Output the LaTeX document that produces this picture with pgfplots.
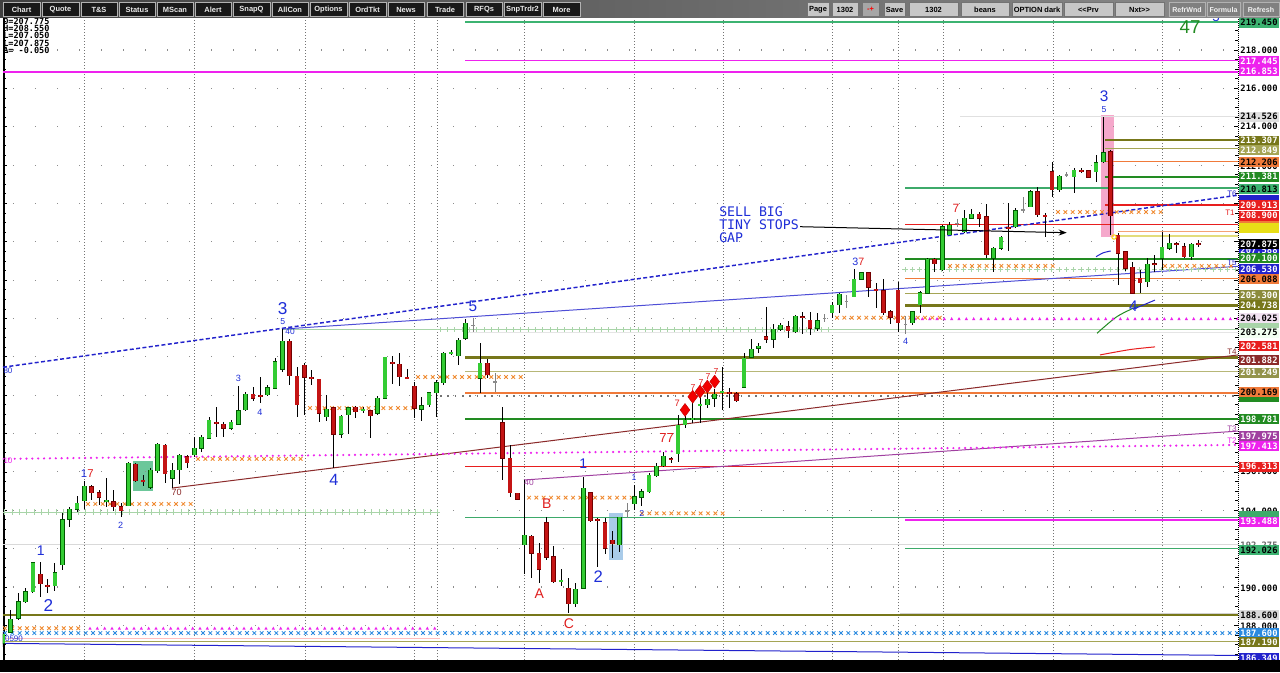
\documentclass[border=0pt]{standalone}
\usepackage{pgfplots}
\pgfplotsset{compat=1.18}
\usepackage{pgfplotstable}
\usetikzlibrary{decorations.markings,arrows.meta}
\usepackage{fontspec}
\setmainfont{Liberation Sans}
\newfontfamily\mono{DejaVu Sans Mono}
\newcommand{\fs}[1]{\fontsize{#1}{#1}\selectfont}

\definecolor{cgreen}{HTML}{33CC33}
\definecolor{cred}{HTML}{C41414}
\definecolor{lgreen}{HTML}{3CB371}
\definecolor{mag}{HTML}{EE22EE}
\definecolor{olive}{HTML}{77771A}
\definecolor{oliveL}{HTML}{A5A555}
\definecolor{orng}{HTML}{F07A3A}
\definecolor{dgreen}{HTML}{228B22}
\definecolor{tgreen}{HTML}{3DAA6A}
\definecolor{rline}{HTML}{E81E1E}
\definecolor{tblue}{HTML}{2222CC}
\definecolor{maroon}{HTML}{8B2A2A}
\definecolor{purp}{HTML}{A040A0}
\definecolor{xorange}{HTML}{F08A30}
\definecolor{pgreen}{HTML}{A8D4A8}
\definecolor{xblue}{HTML}{2A8AE0}
\definecolor{annblue}{HTML}{1E2ED8}
\definecolor{annred}{HTML}{E01E1E}
\definecolor{shadeG}{HTML}{6CC79A}
\definecolor{shadeB}{HTML}{A9CBE9}
\definecolor{shadeP}{HTML}{F5A8CB}

\pgfplotstableread{
x o h l c
3 187.07 187.67 186.89 187.55
10.7 187.64 188.80 187.59 188.33
18.3 188.37 189.67 188.28 189.24
25.7 189.24 189.93 189.15 189.76
33 189.76 191.27 189.67 191.27
55 190.05 191.24 189.81 190.75
62.3 191.15 193.84 190.89 193.50
69.7 193.53 194.19 193.15 194.05
77 194.05 194.75 193.93 194.37
84.3 194.50 195.53 194.05 195.27
106.3 194.48 195.67 194.19 194.52
128.3 194.24 196.50 194.20 196.45
150.3 195.20 196.19 195.10 196.10
157.7 196.07 197.49 195.93 197.46
172.3 195.67 196.48 195.15 196.10
179.7 196.10 196.94 195.37 196.88
194.3 196.88 197.84 196.80 197.23
201.7 197.23 197.93 197.06 197.81
209 197.75 198.88 197.70 198.71
231 198.28 198.71 198.19 198.60
238.3 198.49 200.48 198.45 199.19
245.7 199.23 200.19 199.19 200.05
267.7 200.01 200.53 199.96 200.39
275 200.36 201.93 200.31 201.75
282.3 201.35 203.44 201.23 202.83
326.3 198.88 200.01 198.67 199.27
341 197.96 198.97 197.79 198.92
348.3 198.97 199.40 197.96 199.35
363 199.21 199.37 199.06 199.25
377.7 199.06 199.96 198.97 199.84
385 199.84 202.01 199.84 201.98
421.7 199.27 199.89 198.66 199.46
429 199.49 200.19 199.40 200.13
436.3 200.13 200.79 198.88 200.65
443.7 200.65 202.27 200.53 202.19
451 202.18 202.36 202.10 202.22
458.3 202.05 202.97 201.58 202.88
465.7 202.97 203.96 202.88 203.75
480 200.88 202.71 200.13 201.66
524.3 192.19 195.58 190.68 192.71
561 190.30 190.92 190.05 190.34
575.7 189.12 190.19 188.97 189.88
583.3 189.93 195.75 189.88 195.15
619.7 192.19 193.67 191.84 193.64
634.3 194.33 195.32 194.02 194.71
641.7 194.68 195.10 194.23 194.97
649 194.97 195.93 194.89 195.84
656.3 195.79 196.45 195.75 196.31
663.7 196.31 197.06 196.24 196.83
678 196.94 198.97 196.53 198.45
685 198.45 198.92 198.28 198.71
692.7 198.74 199.84 198.57 198.78
700 199.47 200.19 198.57 199.51
707.3 199.49 200.19 199.32 199.79
714.7 199.84 200.31 199.40 200.07
722 200.17 201.46 199.23 200.21
744 200.41 202.19 200.36 201.93
751.3 201.98 202.92 201.93 202.40
758.7 202.45 202.74 202.19 202.57
773.3 202.92 203.71 202.45 203.44
780.7 203.44 203.75 203.37 203.66
795.3 203.31 204.18 203.23 204.13
817.3 203.49 204.27 203.37 203.89
832 204.30 204.88 204.01 204.70
839.3 204.70 205.31 204.30 205.26
854 205.14 206.57 205.11 206.04
861.3 206.04 206.44 206.01 206.39
912.7 203.78 204.41 203.66 204.36
920 204.70 205.45 204.27 205.35
927.3 205.31 207.14 205.28 207.09
942.3 206.53 208.88 206.49 208.79
949.7 208.35 209.05 208.35 208.88
964.3 208.53 209.66 208.44 209.22
971.7 209.22 209.69 209.17 209.45
993.7 207.14 207.74 206.44 207.66
1001 207.66 208.30 207.57 208.23
1015.7 208.79 209.75 208.70 209.62
1030.3 209.83 210.70 209.80 210.61
1059.3 210.70 211.48 210.61 211.43
1074 211.39 211.83 210.53 211.74
1096 211.65 212.53 211.13 212.12
1103.3 212.18 214.50 212.09 212.65
1147.3 205.92 207.14 205.66 206.84
1162 207.14 208.53 206.53 207.71
1169.3 207.66 208.40 207.57 207.92
1191.3 207.22 207.92 207.05 207.88
}\tabG

\pgfplotstableread{
x o h l c
40.3 190.66 191.32 189.50 190.16
47.7 190.08 190.42 189.67 190.06
91.7 195.23 195.32 194.54 194.92
99 194.92 195.06 194.28 194.68
113.7 194.45 195.06 193.96 194.19
121 194.19 194.37 193.64 193.96
135.7 196.41 196.47 195.48 195.54
143 195.55 195.84 195.27 195.51
165 197.41 197.44 195.41 195.89
187 196.80 196.88 196.19 196.48
216.3 198.59 199.37 197.84 198.55
223.7 198.49 198.62 197.81 198.28
253 200.05 200.44 199.70 199.84
260.3 199.98 200.93 199.58 199.94
289.7 202.83 202.92 200.53 201.02
297 201.00 201.46 198.85 199.49
304.3 201.58 201.67 198.97 200.94
311.7 200.94 201.32 200.53 200.90
319 200.83 200.83 198.62 199.06
333.7 199.35 199.40 196.19 197.96
355.7 199.37 199.44 198.80 199.14
370.3 199.19 199.23 197.79 198.93
392.3 201.72 202.05 200.59 201.68
399.7 201.63 202.22 200.48 200.97
407 200.94 201.37 200.83 200.90
414.3 200.48 200.71 198.80 199.32
487.7 201.66 201.87 200.88 201.06
502.3 198.57 199.37 195.58 196.71
510 196.71 197.41 194.68 194.92
517.3 194.89 194.92 194.54 194.57
531.7 192.66 192.71 190.46 191.76
539 191.76 192.31 190.23 190.92
546.3 193.35 193.67 191.41 191.55
553.7 191.58 192.14 190.23 190.28
568.3 189.93 190.46 188.63 189.12
590.3 194.92 194.97 193.41 193.46
597.7 193.52 193.58 191.06 193.48
605 193.35 193.58 191.72 192.02
612.3 192.45 192.94 191.50 192.24
671 196.68 196.76 196.48 196.64
729.3 200.15 200.36 199.32 200.11
736.7 200.07 200.19 199.66 199.72
766 203.05 204.58 202.71 202.92
788 203.57 203.89 202.97 203.37
802.7 204.08 204.36 203.19 204.04
810 203.92 204.36 203.14 203.49
868.7 206.39 206.44 205.14 205.63
876 205.51 205.87 204.53 205.47
883.3 205.45 206.04 204.18 204.30
890.7 204.36 204.44 203.71 204.06
898 205.49 205.92 203.31 203.78
934.7 207.09 207.14 206.44 206.84
979 209.43 209.57 208.79 209.22
986.3 209.31 209.97 207.14 207.31
1008.3 208.76 210.04 207.54 208.72
1037.7 210.61 210.87 209.31 209.40
1045 209.38 209.49 208.27 209.34
1052 211.65 212.18 210.35 210.70
1081.3 211.73 211.83 211.57 211.69
1088.7 211.71 211.74 211.34 211.36
1110.7 212.70 212.79 208.35 209.35
1118 208.35 208.44 205.75 207.40
1125.3 207.48 207.54 206.49 206.62
1132.7 206.67 206.96 205.28 205.31
1140 206.10 206.53 205.31 205.87
1154.7 206.85 207.31 206.44 206.81
1176.7 207.89 208.01 207.40 207.85
1184 207.74 207.92 207.14 207.22
1198.7 207.90 208.09 207.74 207.86
}\tabR

\pgfplotstableread{
x o h l c
473 203.66 204.01 203.31 203.64
495 200.70 201.17 200.19 200.68
627 193.99 194.37 193.58 193.97
824.7 204.00 204.24 203.83 204.02
846.7 204.90 205.23 204.53 204.88
905.3 203.70 204.13 203.19 203.68
957 208.97 209.17 208.79 208.95
1023 209.67 210.32 209.49 209.65
1066.7 211.49 211.65 211.36 211.47
}\tabY

\pgfplotsset{
 wick/.style={draw=none, mark=none, forget plot, error bars/.cd, y dir=both, y explicit, error mark=none, error bar style={draw=#1, line width=0.75pt, solid}},
 body/.style 2 args={draw=none, mark=none, forget plot, error bars/.cd, y dir=both, y explicit, error mark=none, error bar style={draw=#1, line width=#2, solid, line cap=butt}},
}
\newcommand{\hl}[4]{\addplot[forget plot, mark=none, #1] coordinates {(#2,#4) (#3,#4)};}
\newcommand{\mrow}[4]{\addplot[forget plot, mark=none, draw=none, postaction={decorate}, decoration={markings, mark=between positions 0 and 1 step 5.5pt with {#1}}] coordinates {(#2,#4) (#3,#4)};}
\newcommand{\mkx}[1]{\draw[#1, line width=0.65pt] (-1.35pt,-1.35pt)--(1.35pt,1.35pt) (-1.35pt,1.35pt)--(1.35pt,-1.35pt);}
\newcommand{\mkplus}[1]{\draw[#1, line width=0.75pt] (-1.9pt,0pt)--(1.9pt,0pt) (0pt,-1.9pt)--(0pt,1.9pt);}
\newcommand{\mktri}[1]{\fill[#1] (-1.2pt,-1pt)--(1.2pt,-1pt)--(0pt,1.2pt)--cycle;}
\newcommand{\ann}[5]{\node[text=#3, font=\fs{#4}, inner sep=0pt] at (#1,#2) {#5};}
\newcommand{\lab}[4]{\node[fill=#2, text=#3, minimum width=30pt, minimum height=7.6pt, inner sep=0pt, font=\mono\bfseries\fs{6.6}] at (1259,#1) {#4};}
\newcommand{\strip}[2]{\fill[#2] (1239,#1-4.8) rectangle (1279,#1+4.8);}

\begin{document}
\begin{tikzpicture}
\fill[white] (0,0) rectangle (960pt,504pt);
\useasboundingbox (0,0) rectangle (960pt,504pt);
\begin{axis}[
 at={(2.25pt,9pt)}, anchor=south west,
 width=926.25pt, height=482.25pt, scale only axis,
 xmin=3, xmax=1238, ymin=186.194, ymax=219.72,
 axis line style={draw=none},
 xtick=\empty,
 ytick={188,190,...,218},
 minor ytick={186.5,187,...,219.5},
 yticklabels={},
 tick align=inside,
 major tick length=3pt, minor tick length=2.2pt,
 tick style={black, line width=0.6pt},
 clip mode=individual,
]
% shaded boxes
\fill[shadeG] (axis cs:132.7,196.59) rectangle (axis cs:153.3,195.02);
\fill[shadeB] (axis cs:609,193.86) rectangle (axis cs:622.7,191.41);
\fill[shadeP] (axis cs:1100.7,214.61) rectangle (axis cs:1114,208.25);
% grid
\pgfplotsinvokeforeach{188,190,192,194,196,198,200,202,204,206,208,210,212,214,216,218}{
 \draw[black!45, line width=0.8pt, dash pattern=on 0.8pt off 15.7pt] (axis cs:13,#1) -- (axis cs:1238,#1);
}
\pgfplotsinvokeforeach{84,194,305,414,437,524,634,723,832,898,943,1053,1162}{
 \draw[black!55, line width=0.6pt, dash pattern=on 0.75pt off 1.5pt] (axis cs:#1,186.194) -- (axis cs:#1,219.72);
}
\draw[black, line width=0.6pt, dash pattern=on 0.75pt off 0.75pt] (axis cs:1238,186.194) -- (axis cs:1238,219.72);
\draw[black, line width=1.1pt] (axis cs:4,186.194) -- (axis cs:4,219.72);

% horizontal levels
\hl{lgreen, line width=1.1pt}{465}{1238}{219.45}
\hl{mag, line width=1.1pt}{465}{1238}{217.445}
\hl{mag, line width=1.5pt}{3}{1238}{216.853}
\hl{black!12, line width=0.75pt}{960}{1238}{214.526}
\hl{olive, line width=2.2pt}{1105}{1238}{213.307}
\hl{oliveL, line width=0.9pt}{1105}{1238}{212.849}
\hl{orng, line width=0.9pt}{1105}{1238}{212.206}
\hl{dgreen, line width=1.5pt}{1105}{1238}{211.381}
\hl{tgreen, line width=1.1pt}{905}{1238}{210.813}
\hl{rline, line width=1.5pt}{1105}{1238}{209.913}
\hl{rline, line width=1.1pt}{905}{1238}{208.9}
\hl{orng!70, line width=0.9pt}{1118}{1238}{208.53}
\hl{yellow!60!olive!60, line width=0.9pt}{1118}{1238}{208.30}
\hl{dgreen, line width=1.1pt}{905}{1238}{207.10}
\hl{orng, line width=0.9pt}{905}{1238}{206.088}
\hl{oliveL, line width=0.9pt}{905}{1238}{205.30}
\hl{olive, line width=2.2pt}{905}{1238}{204.70}
\hl{pgreen, line width=0.75pt}{283}{1238}{203.45}
\hl{black!10, line width=0.75pt}{465}{1238}{203.275}
\hl{olive, line width=2.2pt}{465}{1238}{201.97}
\hl{oliveL!80, line width=0.9pt}{465}{1238}{201.249}
\hl{orng, line width=0.9pt}{465}{1238}{200.12}
\hl{black!55, line width=1.3pt, dash pattern=on 1.3pt off 4.2pt}{440}{1238}{199.96}
\hl{dgreen, line width=1.5pt}{465}{1238}{198.75}
\hl{rline, line width=1.1pt}{465}{1238}{196.28}
\hl{tgreen, line width=0.75pt}{465}{1238}{193.64}
\hl{mag, line width=1.1pt}{905}{1238}{193.488}
\hl{black!15, line width=0.75pt}{3}{1238}{192.2}
\hl{tgreen, line width=0.9pt}{905}{1238}{192.026}
\hl{black!18, line width=0.75pt}{900}{1238}{188.62}
\hl{olive, line width=2.2pt}{3}{1238}{188.54}
\hl{pink, line width=0.75pt}{3}{440}{187.30}
\hl{oliveL, line width=0.9pt}{3}{1238}{187.15}
\hl{pgreen, line width=0.75pt}{3}{440}{193.91}

% trend lines
\addplot[forget plot, mark=none, tblue, line width=1.1pt, dash pattern=on 3pt off 1.8pt] coordinates {(3,201.46) (1238,210.43)};
\addplot[forget plot, mark=none, tblue!80, line width=0.75pt] coordinates {(283,203.45) (1238,206.72)};
\addplot[forget plot, mark=none, maroon, line width=0.75pt] coordinates {(172,195.16) (1238,202.10)};
\addplot[forget plot, mark=none, purp, line width=0.75pt] coordinates {(524,195.58) (1238,198.13)};
\addplot[forget plot, mark=none, mag, line width=1.8pt, dash pattern=on 0pt off 4.4pt, line cap=round] coordinates {(3,196.68) (1238,197.41)};
\addplot[forget plot, mark=none, tblue, line width=0.75pt] coordinates {(3,187.06) (1238,186.43)};
\addplot[forget plot, mark=none, tblue, line width=0.75pt, smooth] coordinates {(1096,207.22) (1103,207.42) (1110.7,207.52)};
\addplot[forget plot, mark=none, dgreen, line width=0.75pt, smooth] coordinates {(1097,203.23) (1117,204.1) (1138,204.65)};
\addplot[forget plot, mark=none, tblue, line width=0.75pt] coordinates {(1133,204.48) (1155,204.96)};
\addplot[forget plot, mark=none, rline, line width=0.75pt, smooth] coordinates {(1100,202.10) (1130,202.38) (1155,202.52)};

% marker rows
\mrow{\mkx{xorange}}{5}{85}{187.85}
\mrow{\mktri{mag}}{90}{440}{187.85}
\mrow{\mkx{xblue}}{5}{1238}{187.60}
\mrow{\mkplus{pgreen}}{5}{440}{193.91}
\mrow{\mkx{xorange}}{88}{195}{194.33}
\mrow{\mkx{xorange}}{198}{305}{196.68}
\mrow{\mkx{xorange}}{310}{418}{199.33}
\mrow{\mkx{xorange}}{418}{525}{200.95}
\mrow{\mkx{xorange}}{529}{632}{194.66}
\mrow{\mkx{xorange}}{642}{725}{193.84}
\mrow{\mkplus{pgreen}}{440}{835}{203.45}
\mrow{\mkx{xorange}}{837}{945}{204.04}
\mrow{\mktri{mag}}{915}{1238}{203.99}
\mrow{\mkplus{pgreen}}{905}{1238}{206.56}
\mrow{\mkx{xorange}}{950}{1055}{206.74}
\mrow{\mkx{xorange}}{1165}{1238}{206.74}
\mrow{\mkx{xorange}}{1058}{1162}{209.55}

% candles: wicks
\addplot[wick=black] table[x=x, y expr={(\thisrow{h}+\thisrow{l})/2}, y error expr={(\thisrow{h}-\thisrow{l})/2}] {\tabG};
\addplot[wick=black] table[x=x, y expr={(\thisrow{h}+\thisrow{l})/2}, y error expr={(\thisrow{h}-\thisrow{l})/2}] {\tabR};
\addplot[wick=black!50] table[x=x, y expr={(\thisrow{h}+\thisrow{l})/2}, y error expr={(\thisrow{h}-\thisrow{l})/2}] {\tabY};
% bodies
\addplot[body={green!35!black}{3.7pt}] table[x=x, y expr={(\thisrow{o}+\thisrow{c})/2}, y error expr={max(abs(\thisrow{o}-\thisrow{c})/2,0.035)+0.02}] {\tabG};
\addplot[body={cgreen}{2.5pt}] table[x=x, y expr={(\thisrow{o}+\thisrow{c})/2}, y error expr={max(abs(\thisrow{o}-\thisrow{c})/2,0.035)}] {\tabG};
\addplot[body={red!45!black}{3.7pt}] table[x=x, y expr={(\thisrow{o}+\thisrow{c})/2}, y error expr={max(abs(\thisrow{o}-\thisrow{c})/2,0.035)+0.02}] {\tabR};
\addplot[body={cred}{2.5pt}] table[x=x, y expr={(\thisrow{o}+\thisrow{c})/2}, y error expr={max(abs(\thisrow{o}-\thisrow{c})/2,0.035)}] {\tabR};
\addplot[body={black!45}{2.6pt}] table[x=x, y expr={(\thisrow{o}+\thisrow{c})/2}, y error expr={max(abs(\thisrow{o}-\thisrow{c})/2,0.035)}] {\tabY};

% diamonds
\addplot[forget plot, only marks, mark=diamond*, mark size=4.8pt, draw=red!80!black, fill=red!95!black] coordinates {(685,199.23) (692.7,199.92) (700,200.19) (707.3,200.45) (714.7,200.71)};
\end{axis}

\begin{scope}[x=0.75pt,y=-0.75pt,yshift=504pt]
% annotations
\ann{282.7}{308.3}{annblue}{12.9}{3}
\ann{282.7}{321.7}{annblue}{6.5}{5}
\ann{290}{332}{annblue}{6.3}{40}
\ann{238.3}{378.3}{annblue}{6.8}{3}
\ann{260}{412.7}{annblue}{6.8}{4}
\ann{334}{480}{annblue}{12.2}{4}
\ann{473}{306.7}{annblue}{11.5}{5}
\ann{40.7}{550.7}{annblue}{10.5}{1}
\ann{48.3}{605}{annblue}{12.9}{2}
\node[font=\fs{8.5}, inner sep=0pt] at (87.3,473.3) {\textcolor{annblue}{1}\textcolor{annred}{7}};
\ann{120.7}{525}{annblue}{6.8}{2}
\ann{176.7}{492.7}{maroon}{6.8}{70}
\ann{8}{461}{mag}{6}{10}
\ann{14}{639}{annblue}{6}{0590}
\ann{8}{370.7}{annblue}{6}{80}
\ann{529}{483}{purp}{6.3}{40}
\ann{546.7}{504}{annred}{10.5}{B}
\ann{539.3}{594}{annred}{10.5}{A}
\ann{569}{624}{annred}{10.5}{C}
\ann{583.3}{464}{annblue}{10.5}{1}
\ann{598.3}{576.7}{annblue}{12.5}{2}
\ann{634}{477.7}{annblue}{6.5}{1}
\ann{641.7}{513.3}{annblue}{6.5}{2}
\ann{666.7}{438}{annred}{9.8}{77}
\ann{677.3}{403.3}{annred}{7}{7}
\ann{693}{388}{annred}{6.5}{7}
\ann{701}{383}{annred}{6.5}{7}
\ann{708}{377}{annred}{6.5}{7}
\ann{716}{372}{annred}{6.5}{7}
\node[font=\fs{8}, inner sep=0pt] at (858.3,261.7) {\textcolor{annblue}{3}\textcolor{annred}{7}};
\ann{905.7}{341.7}{annblue}{6.8}{4}
\ann{956}{208.3}{annred}{9}{7}
\ann{1104}{96.7}{annblue}{11.5}{3}
\ann{1104}{110}{annblue}{6.5}{5}
\ann{1133.3}{306}{annblue}{11.5}{4}
\ann{1190}{27}{dgreen}{14}{47}
\ann{1216}{17}{annblue}{10}{-5-}
\draw[yellow!70!orange, line width=0.75pt] (1114,237) circle (2.2);
% T labels
\ann{1232}{194}{tblue}{6}{T6}
\ann{1230}{213}{rline}{6}{T1}
\ann{1232}{263}{tblue}{6}{T5}
\ann{1232}{352}{maroon}{6}{T4}
\ann{1232}{429}{purp}{6}{T3}
\ann{1232}{441}{mag}{6}{T2}
% sell text and arrow
\node[anchor=west, text=annblue, font=\mono\fs{9.9}, inner sep=0pt] at (719,211.7) {SELL BIG};
\node[anchor=west, text=annblue, font=\mono\fs{9.9}, inner sep=0pt] at (719,224.3) {TINY STOPS};
\node[anchor=west, text=annblue, font=\mono\fs{9.9}, inner sep=0pt] at (719,237.3) {GAP};
\draw[black, line width=0.75pt, -{Stealth[length=6pt,width=4.5pt]}] (800,226.7) -- (1066.7,232.7);
% OHLC
\node[anchor=west, font=\mono\bfseries\fs{6.4}, inner sep=0pt] at (3,21) {O=207.775};
\node[anchor=west, font=\mono\bfseries\fs{6.4}, inner sep=0pt] at (3,28.3) {H=208.550};
\node[anchor=west, font=\mono\bfseries\fs{6.4}, inner sep=0pt] at (3,35.6) {L=207.050};
\node[anchor=west, font=\mono\bfseries\fs{6.4}, inner sep=0pt] at (3,43) {L=207.875};
\node[anchor=west, font=\mono\bfseries\fs{6.4}, inner sep=0pt] at (3,50.3) {Δ= -0.050};

% price labels: plain
\lab{50}{white}{black}{218.000}
\lab{88.3}{white}{black}{216.000}
\lab{126.7}{white}{black}{214.000}
\lab{166.7}{white}{black}{212.000}
\lab{471.7}{white}{black}{196.000}
\lab{511.7}{white}{black}{194.000}
\lab{545}{white}{black!60}{192.275}
\lab{588.3}{white}{black}{190.000}
\lab{626}{white}{black}{188.000}
\lab{250}{tblue}{white}{207.588}
% mostly hidden labels (only a sliver shows)
\strip{200}{tblue}
\strip{220.7}{orng}
\strip{228}{yellow!90!black}
\strip{300}{olive}
\strip{327.3}{pgreen}
\strip{396.7}{dgreen}
\strip{516}{tgreen}
% visible
\lab{22.7}{lgreen}{black}{219.450}
\lab{61}{mag}{white}{217.445}
\lab{71}{mag}{white}{216.853}
\lab{116.7}{black!12}{black}{214.526}
\lab{140.7}{olive}{white}{213.307}
\lab{150}{oliveL}{white}{212.849}
\lab{162.3}{orng}{black}{212.206}
\lab{176.7}{dgreen}{white}{211.381}
\lab{189}{lgreen}{black}{210.813}
\lab{205}{rline}{white}{209.913}
\lab{215.7}{rline}{white}{208.900}
\lab{244.3}{black}{white}{207.875}
\lab{258.3}{dgreen}{white}{207.100}
\lab{269.3}{tblue}{white}{206.530}
\lab{279.3}{orng}{black}{206.088}
\lab{295}{olive!85}{white}{205.300}
\lab{305}{olive}{white}{204.738}
\lab{318.3}{purp!15}{black}{204.025}
\lab{332.7}{green!5}{black}{203.275}
\lab{346}{rline}{white}{202.581}
\lab{360}{maroon}{white}{201.882}
\lab{372.7}{oliveL!90!black}{white}{201.249}
\lab{392.3}{orng}{black}{200.169}
\lab{419.3}{dgreen}{white}{198.781}
\lab{436}{purp}{white}{197.975}
\lab{446}{mag}{white}{197.413}
\lab{466.7}{rline}{white}{196.313}
\lab{521.7}{mag}{white}{193.488}
\lab{550}{lgreen}{black}{192.026}
\lab{615}{black!15}{black}{188.600}
\lab{633.3}{xblue}{white}{187.600}
\lab{642.3}{olive}{white}{187.190}
\lab{658.3}{tblue}{white}{186.349}

% toolbar
\shade[left color=black!75, right color=black!45] (0,0) rectangle (1280,18);
\foreach \a/\b/\t in {3/40/Chart,42/79/Quote,81/117/T\&S,119/155/Status,157/193/MScan,195/231/Alert,233/270/SnapQ,272/308/AllCon,310/347/Options,349/386/OrdTkt,388/424/News,427/463/Trade,466/502/RFQs,504/541/SnpTrdr2,543/580/More}{
 \draw[fill=black!90, draw=black!30, line width=0.75pt] (\a,2.5) rectangle (\b,16.5);
 \node[text=black!8, font=\bfseries\fs{5.6}, inner sep=0pt] at ({(\a+\b)/2},9.5) {\t};
}
\foreach \a/\b/\t in {807/829/Page,832/858/1302,884/905/Save,909/958/1302,961/1009/beans,1012/1062/OPTION dark,1064/1113/<{}<Prv,1115/1164/Nxt>{}>}{
 \draw[fill=black!22, draw=black!55, line width=0.75pt] (\a,2.5) rectangle (\b,16.5);
 \node[text=black, font=\bfseries\fs{5.6}, inner sep=0pt] at ({(\a+\b)/2},9.5) {\t};
}
\draw[fill=black!35, draw=black!55, line width=0.75pt] (862,2.5) rectangle (879,16.5);
\node[text=red, font=\bfseries\fs{5.6}, inner sep=0pt] at (870.5,9.5) {-+};
\foreach \a/\b/\t in {1169/1205/RefrWnd,1207/1240/Formula,1243/1279/Refresh}{
 \draw[fill=black!50, draw=black!30, line width=0.75pt] (\a,2.5) rectangle (\b,16.5);
 \node[text=black!5, font=\bfseries\fs{5.3}, inner sep=0pt] at ({(\a+\b)/2},9.5) {\t};
}
% bottom strip
\fill[black] (0,660) rectangle (1280,672);
\end{scope}
\end{tikzpicture}
\end{document}
